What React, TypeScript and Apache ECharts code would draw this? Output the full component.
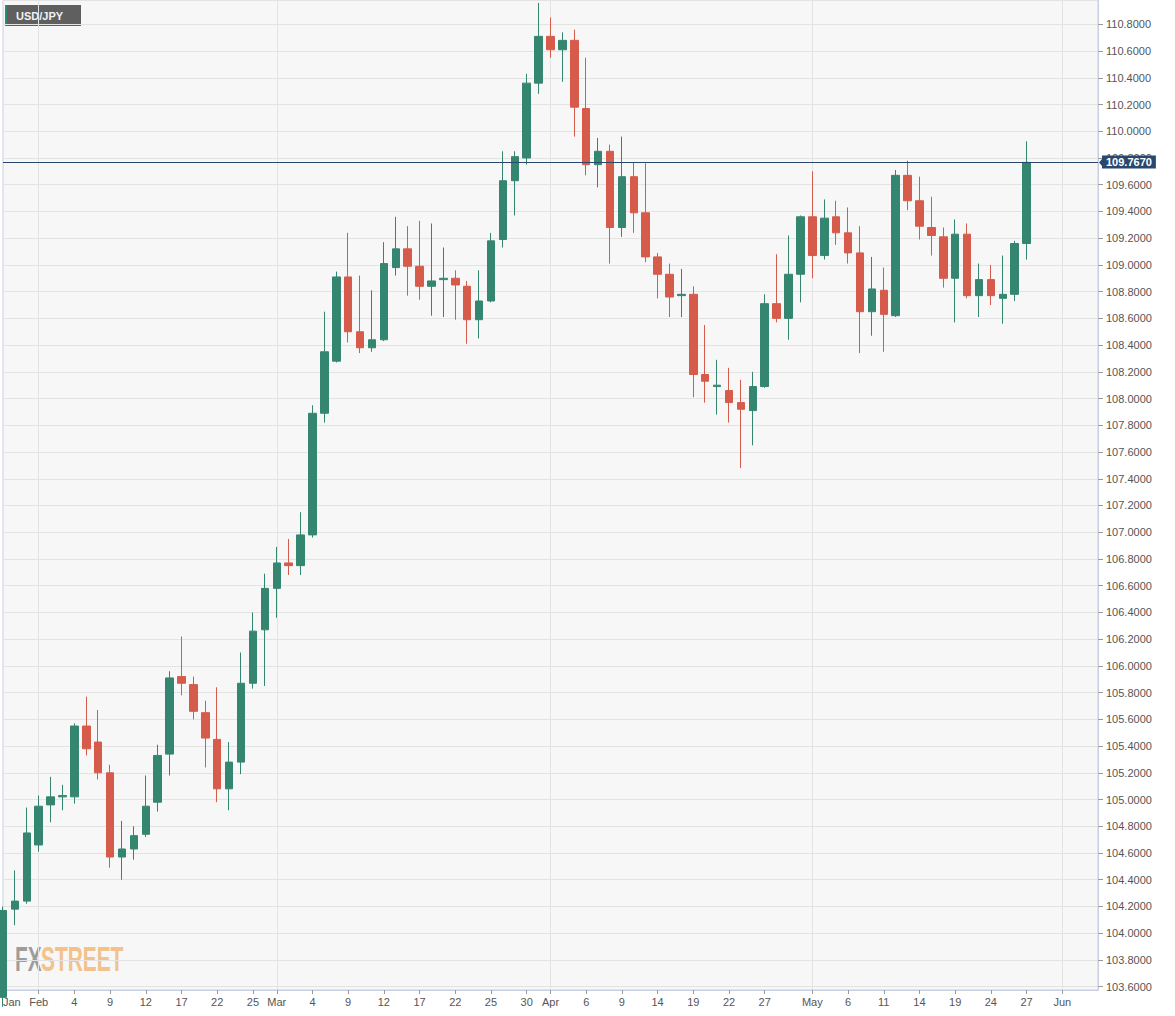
import React, { useEffect, useRef } from "react";
import * as echarts from "echarts";

// Trading days shown on the category axis (last six are empty future slots)
const dates: string[] = [
  "01-27", "01-28", "01-29",
  "02-01", "02-02", "02-03", "02-04", "02-05", "02-08", "02-09", "02-10", "02-11", "02-12",
  "02-15", "02-16", "02-17", "02-18", "02-19", "02-22", "02-23", "02-24", "02-25", "02-26",
  "03-01", "03-02", "03-03", "03-04", "03-05", "03-08", "03-09", "03-10", "03-11", "03-12",
  "03-15", "03-16", "03-17", "03-18", "03-19", "03-22", "03-23", "03-24", "03-25", "03-26",
  "03-29", "03-30", "03-31",
  "04-01", "04-02", "04-05", "04-06", "04-07", "04-08", "04-09", "04-12", "04-13", "04-14",
  "04-15", "04-16", "04-19", "04-20", "04-21", "04-22", "04-23", "04-26", "04-27", "04-28",
  "04-29", "04-30",
  "05-03", "05-04", "05-05", "05-06", "05-07", "05-10", "05-11", "05-12", "05-13", "05-14",
  "05-17", "05-18", "05-19", "05-20", "05-21", "05-24", "05-25", "05-26", "05-27",
  "05-28", "05-31", "06-01", "06-02", "06-03", "06-04",
];

const opens: number[] = [
  103.52, 104.18, 104.24, 104.66, 104.96, 105.02, 105.02, 105.55, 105.43, 105.2,
  104.57, 104.63, 104.74, 104.98, 105.34, 105.92, 105.86, 105.65, 105.45, 105.08,
  105.28, 105.87, 106.27, 106.58, 106.77, 106.75, 106.98, 107.89, 108.28, 108.91,
  108.5, 108.38, 108.44, 108.98, 109.12, 108.99, 108.84, 108.89, 108.9, 108.84,
  108.59, 108.73, 109.19, 109.63, 109.8, 110.36, 110.71, 110.61, 110.68, 110.17,
  109.75, 109.85, 109.28, 109.66, 109.39, 109.06, 108.93, 108.77, 108.78, 108.18,
  108.09, 108.06, 107.97, 107.91, 108.09, 108.71, 108.6, 108.93, 109.36, 109.07,
  109.36, 109.24, 109.09, 108.65, 108.81, 108.62, 109.67, 109.48, 109.28, 109.21,
  108.9, 109.23, 108.77, 108.89, 108.75, 108.78, 109.16,
];
const closes: number[] = [
  104.17, 104.24, 104.75, 104.95, 105.02, 105.03, 105.55, 105.38, 105.2, 104.57,
  104.63, 104.73, 104.95, 105.33, 105.91, 105.87, 105.66, 105.46, 105.08, 105.28,
  105.87, 106.26, 106.58, 106.77, 106.75, 106.98, 107.89, 108.35, 108.91, 108.5,
  108.38, 108.44, 109.01, 109.12, 108.99, 108.84, 108.88, 108.9, 108.85, 108.59,
  108.73, 109.18, 109.63, 109.81, 110.36, 110.71, 110.61, 110.68, 110.18, 109.75,
  109.85, 109.28, 109.66, 109.39, 109.06, 108.93, 108.76, 108.78, 108.18, 108.13,
  108.1, 107.97, 107.92, 108.09, 108.71, 108.6, 108.93, 109.36, 109.07, 109.35,
  109.24, 109.09, 108.65, 108.82, 108.63, 109.67, 109.48, 109.29, 109.22, 108.9,
  109.23, 108.77, 108.89, 108.77, 108.78, 109.16, 109.767,
];
const lows: number[] = [
  103.45, 104.06, 104.22, 104.61, 104.83, 104.92, 104.97, 105.33, 105.15, 104.49,
  104.4, 104.55, 104.72, 104.91, 105.18, 105.78, 105.6, 105.24, 104.98, 104.92,
  105.19, 105.83, 105.85, 106.36, 106.68, 106.68, 106.96, 107.82, 108.27, 108.42,
  108.34, 108.35, 108.43, 108.92, 108.77, 108.74, 108.62, 108.61, 108.59, 108.41,
  108.45, 108.72, 109.13, 109.37, 109.75, 110.28, 110.55, 110.37, 109.96, 109.67,
  109.58, 109.01, 109.21, 109.24, 109.02, 108.75, 108.61, 108.61, 108.01, 107.97,
  107.88, 107.82, 107.48, 107.65, 108.08, 108.57, 108.44, 108.72, 108.9, 109.04,
  109.15, 109.01, 108.34, 108.47, 108.35, 108.61, 109.41, 109.19, 109.07, 108.83,
  108.57, 108.75, 108.61, 108.7, 108.56, 108.73, 109.04,
];
const highs: number[] = [
  104.2, 104.47, 104.94, 105.03, 105.17, 105.11, 105.57, 105.77, 105.67, 105.26,
  104.84, 104.8, 105.18, 105.41, 105.96, 106.22, 105.92, 105.74, 105.84, 105.43,
  106.1, 106.4, 106.69, 106.89, 106.95, 107.15, 107.95, 108.65, 108.95, 109.24,
  108.92, 108.81, 109.17, 109.36, 109.29, 109.33, 109.31, 109.13, 108.96, 108.88,
  108.96, 109.24, 109.85, 109.85, 110.43, 110.96, 110.85, 110.74, 110.76, 110.55,
  109.95, 109.9, 109.96, 109.77, 109.76, 109.09, 109.01, 108.97, 108.84, 108.55,
  108.29, 108.23, 108.14, 108.2, 108.78, 109.08, 109.22, 109.37, 109.7, 109.49,
  109.48, 109.43, 109.29, 109.06, 108.98, 109.71, 109.78, 109.66, 109.51, 109.28,
  109.34, 109.31, 109.01, 109.0, 109.07, 109.18, 109.925,
];

const tickDates: string[] = [
  "01-27", "02-01", "02-04", "02-09", "02-12", "02-17", "02-22", "02-25",
  "03-01", "03-04", "03-09", "03-12", "03-17", "03-22", "03-25", "03-30",
  "04-01", "04-06", "04-09", "04-14", "04-19", "04-22", "04-27",
  "05-03", "05-06", "05-11", "05-14", "05-19", "05-24", "05-27", "06-01",
];
const tickLabels: string[] = [
  "Jan", "Feb", "4", "9", "12", "17", "22", "25",
  "Mar", "4", "9", "12", "17", "22", "25", "30",
  "Apr", "6", "9", "14", "19", "22", "27",
  "May", "6", "11", "14", "19", "24", "27", "Jun",
];
const monthStartDates: string[] = ["02-01", "03-01", "04-01", "05-03", "06-01"];

const symbolName = "USD/JPY";
const lastPrice = 109.767;

const UP = "#358670";
const DOWN = "#d65b4a";
const NAVY = "#29486d";
const AXIS = "#c9cfe3";
const FONT = "Arial, 'Liberation Sans', sans-serif";

export default function App() {
  const ref = useRef<HTMLDivElement>(null);

  useEffect(() => {
    if (!ref.current) return;
    const chart = echarts.init(ref.current, null, { renderer: "svg" });
    const labelMap = new Map<string, string>(tickDates.map((d, i) => [d, tickLabels[i]]));
    const monthSet = new Set(monthStartDates);
    const candles = dates.map((_, i) =>
      i < opens.length ? [opens[i], closes[i], lows[i], highs[i]] : "-"
    );

    const staticGraphics: any[] = [
      {
        type: "group",
        left: 5,
        top: 5,
        children: [
          { type: "rect", shape: { x: 0, y: 0, width: 76, height: 21 }, style: { fill: "#5f5f5f" } },
          { type: "rect", shape: { x: 0, y: 0, width: 2, height: 21 }, style: { fill: "#2e8a6e" } },
          {
            type: "text",
            x: 11,
            y: 10.5,
            style: {
              text: symbolName,
              fill: "#f2f2f2",
              font: `bold 11px ${FONT}`,
              verticalAlign: "middle",
              align: "left",
            },
          },
        ],
      },
      {
        type: "text",
        x: 15,
        y: 958,
        scaleX: 0.58,
        style: { text: "FX", fill: "#9d9d9d", font: `bold 36px ${FONT}`, verticalAlign: "middle", align: "left" },
      },
      {
        type: "text",
        x: 41,
        y: 958,
        scaleX: 0.58,
        style: { text: "STREET", fill: "#f2c18c", font: `bold 36px ${FONT}`, verticalAlign: "middle", align: "left" },
      },
    ];

    chart.setOption({
      animation: false,
      backgroundColor: "#ffffff",
      grid: {
        left: 1,
        right: 77,
        top: 0,
        bottom: 26,
        show: true,
        backgroundColor: "#f7f7f7",
        borderColor: AXIS,
        borderWidth: 1,
      },
      xAxis: {
        type: "category",
        data: dates,
        boundaryGap: false,
        axisLine: { show: true, lineStyle: { color: AXIS } },
        axisTick: {
          show: true,
          length: 4,
          interval: (_i: number, v: string) => labelMap.has(v),
          lineStyle: { color: "#9a9a9a" },
        },
        axisLabel: {
          interval: (_i: number, v: string) => labelMap.has(v),
          formatter: (v: string) => labelMap.get(v) || "",
          color: "#555",
          fontSize: 11,
          fontFamily: FONT,
          margin: 6,
          alignMinLabel: "left",
        },
        splitLine: {
          show: true,
          interval: (_i: number, v: string) => monthSet.has(v),
          lineStyle: { color: "#e3e3e3" },
        },
      },
      yAxis: {
        type: "value",
        position: "right",
        scale: true,
        min: 103.575,
        max: 110.982,
        minInterval: 0.2,
        maxInterval: 0.2,
        splitNumber: 37,
        axisLine: { show: true, lineStyle: { color: AXIS } },
        axisTick: { show: true, length: 5, lineStyle: { color: "#9a9a9a" } },
        axisLabel: {
          formatter: (v: number) => v.toFixed(4),
          color: "#555",
          fontSize: 11,
          fontFamily: FONT,
          margin: 8,
          showMinLabel: false,
          showMaxLabel: false,
        },
        splitLine: { show: true, lineStyle: { color: "#e3e3e3" } },
      },
      series: [
        {
          type: "candlestick",
          data: candles,
          barWidth: 8,
          clip: true,
          itemStyle: {
            color: UP,
            color0: DOWN,
            borderColor: UP,
            borderColor0: DOWN,
            borderWidth: 1,
          },
          markLine: {
            silent: true,
            symbol: ["none", "none"],
            animation: false,
            lineStyle: { color: NAVY, width: 1, type: "solid" },
            label: {
              show: true,
              position: "end",
              formatter: lastPrice.toFixed(4),
              backgroundColor: NAVY,
              color: "#ffffff",
              fontWeight: "bold",
              fontSize: 11,
              fontFamily: FONT,
              lineHeight: 12,
              padding: [1, 4, 0, 4],
              distance: 4,
            },
            emphasis: { disabled: true },
            data: [{ yAxis: lastPrice }],
          },
        },
      ],
      graphic: staticGraphics,
    });

    const py = chart.convertToPixel({ yAxisIndex: 0 }, lastPrice) as number;
    const px = chart.convertToPixel({ xAxisIndex: 0 }, dates[dates.length - 1]) as number;
    chart.setOption({
      graphic: [
        ...staticGraphics,
        {
          type: "polygon",
          shape: { points: [[px + 1, py], [px + 4.5, py - 4], [px + 4.5, py + 4]] },
          style: { fill: NAVY },
        },
      ],
    });

    return () => chart.dispose();
  }, []);

  return (
    <div
      ref={ref}
      style={{ position: "absolute", left: 0, top: 0, width: 1175, height: 1016 }}
    />
  );
}
